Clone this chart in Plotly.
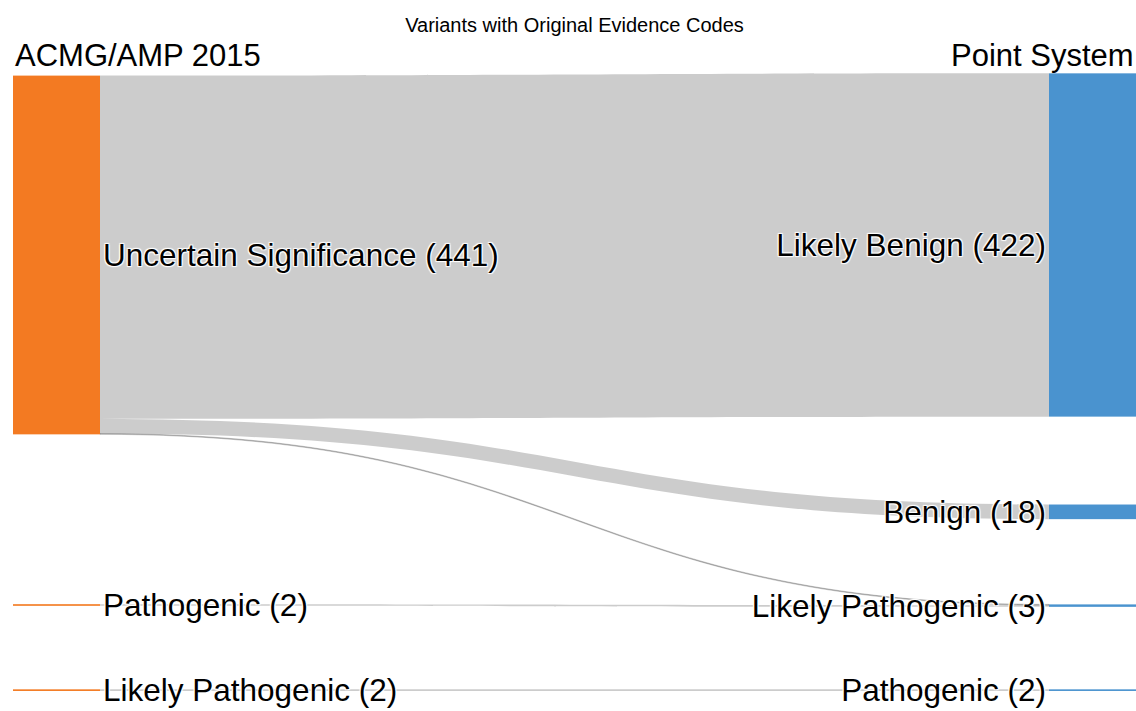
import plotly.graph_objects as go

# ---- data ----
left_names = ["Uncertain Significance", "Pathogenic", "Likely Pathogenic"]
right_names = ["Likely Benign", "Benign", "Likely Pathogenic", "Pathogenic"]

link_sources = [0, 0, 0, 1, 2]          # indices into left_names
link_targets = [0, 1, 2, 2, 3]          # indices into right_names
link_values = [422, 18, 1, 2, 2]

left_y = [0.2917, 0.859, 0.997]
right_y = [0.2755, 0.708, 0.860, 0.997]

title_text = "Variants with Original Evidence Codes"
left_header = "ACMG/AMP 2015"
right_header = "Point System"

ORANGE = "#F37A22"
BLUE = "#4A93CF"

# ---- build ----
nL = len(left_names)
left_tot = [sum(v for s, v in zip(link_sources, link_values) if s == i) for i in range(nL)]
right_tot = [sum(v for t, v in zip(link_targets, link_values) if t == j) for j in range(len(right_names))]

labels = [f"{n} ({c})" for n, c in zip(left_names, left_tot)] + \
         [f"{n} ({c})" for n, c in zip(right_names, right_tot)]
colors = [ORANGE] * nL + [BLUE] * len(right_names)

W, H = 1136, 711
ml, mr, mt, mb = 13, 0, 75, 19
plot_w = W - ml - mr
thick = 87
xl = (thick / 2) / plot_w
xr = 1 - (thick / 2) / plot_w
node_x = [xl] * nL + [xr] * len(right_names)
node_y = left_y + right_y

FONT = "Liberation Sans, Arial, sans-serif"

fig = go.Figure(go.Sankey(
    arrangement="fixed",
    node=dict(
        label=labels,
        color=colors,
        x=node_x,
        y=node_y,
        thickness=thick,
        pad=85,
        line=dict(width=0),
    ),
    link=dict(
        source=link_sources,
        target=[t + nL for t in link_targets],
        value=link_values,
        color="rgba(0,0,0,0.2)",
    ),
    textfont=dict(family=FONT, size=31.5, color="black"),
))

fig.update_layout(
    width=W, height=H,
    margin=dict(l=ml, r=mr, t=mt, b=mb),
    paper_bgcolor="white",
    font=dict(family=FONT, color="black"),
    title=dict(text=title_text, x=574.5 / W, xanchor="center", y=1 - 25 / H, yanchor="middle",
               font=dict(size=20, color="black")),
    annotations=[
        dict(text=left_header, x=0, y=1, xref="paper", yref="paper",
             xanchor="left", yanchor="bottom", showarrow=False, font=dict(size=31, color="black")),
        dict(text=right_header, x=1, y=1, xref="paper", yref="paper",
             xanchor="right", yanchor="bottom", showarrow=False, font=dict(size=31, color="black")),
    ],
)

fig.write_html(
    "out.html",
    config={"displayModeBar": False},
    post_script="document.body.style.margin='0';document.body.style.overflow='hidden';",
)
